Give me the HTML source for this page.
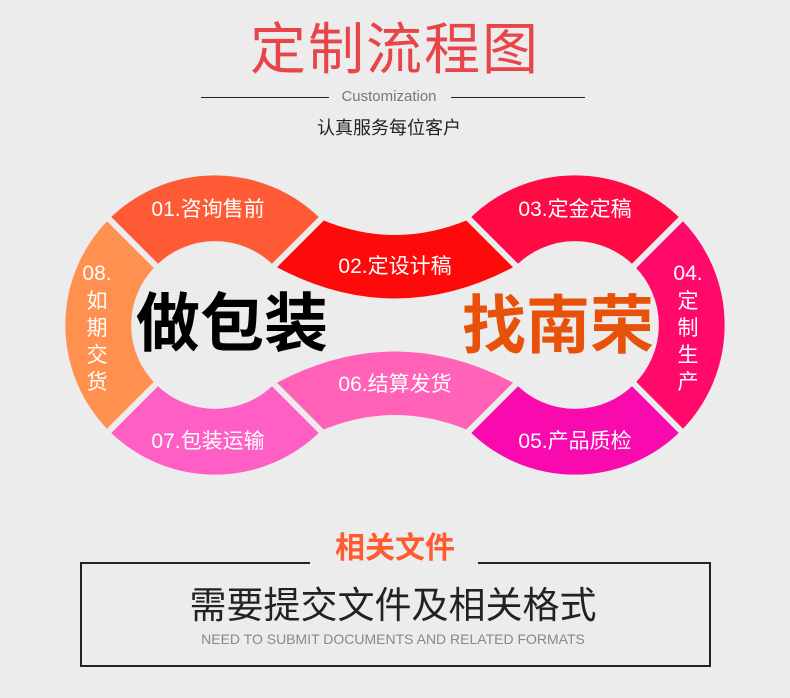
<!DOCTYPE html>
<html><head><meta charset="utf-8"><style>
html,body{margin:0;padding:0;background:#ececec;}
body{width:790px;height:698px;position:relative;overflow:hidden;font-family:"Liberation Sans","Noto Sans CJK SC",sans-serif;}
.a{position:absolute;white-space:nowrap;}
</style></head><body>
<div class="a" style="left:0;width:790px;top:18px;text-align:center;font-size:56px;line-height:64px;color:#e8454a;letter-spacing:2px;">定制流程图</div>
<div class="a" style="left:201px;top:97px;width:128px;height:1px;background:#222;"></div>
<div class="a" style="left:451px;top:97px;width:134px;height:1px;background:#222;"></div>
<div class="a" style="left:0;width:778px;top:88px;text-align:center;font-size:15px;line-height:18px;color:#777;">Customization</div>
<div class="a" style="left:0;width:778px;top:117px;text-align:center;font-size:18px;line-height:22px;color:#222;">认真服务每位客户</div>

<svg class="a" style="left:0;top:0" width="790" height="698" viewBox="0 0 790 698">
<g stroke="#ececec" stroke-width="6" stroke-linejoin="miter">
<path fill="#ff5a36" d="M107,217 A153,153 0 0 1 323,217 L272,268 A80,80 0 0 0 158,268 Z"/>
<path fill="#ff9050" d="M107,433 A153,153 0 0 1 107,217 L158,268 A80,80 0 0 0 158,382 Z"/>
<path fill="#ff5fc4" d="M323,433 A153,153 0 0 1 107,433 L158,382 A80,80 0 0 0 272,382 Z"/>
<path fill="#ff0a45" d="M467,217 A153,153 0 0 1 683,217 L632,268 A80,80 0 0 0 518,268 Z"/>
<path fill="#ff0a6a" d="M683,217 A153,153 0 0 1 683,433 L632,382 A80,80 0 0 0 632,268 Z"/>
<path fill="#f80aae" d="M683,433 A153,153 0 0 1 467,433 L518,382 A80,80 0 0 0 632,382 Z"/>
<path fill="#ff0a0a" d="M323,217 Q395,247 467,217 L518,268 Q395,335 272,268 Z"/>
<path fill="#ff62b6" d="M272,382 Q395,315 518,382 L467,433 Q395,403 323,433 Z"/>
</g>
<g fill="#fff" font-size="21" text-anchor="middle" font-family="Liberation Sans,Noto Sans CJK SC,sans-serif">
<text x="208" y="216">01.咨询售前</text>
<text x="395" y="273">02.定设计稿</text>
<text x="575" y="216">03.定金定稿</text>
<text x="575" y="448">05.产品质检</text>
<text x="395" y="391">06.结算发货</text>
<text x="208" y="448">07.包装运输</text>
<text x="97" y="280">08.</text>
<text x="97" y="308">如</text><text x="97" y="335">期</text><text x="97" y="362">交</text><text x="97" y="389">货</text>
<text x="688" y="280">04.</text>
<text x="688" y="308">定</text><text x="688" y="335">制</text><text x="688" y="362">生</text><text x="688" y="389">产</text>
</g>
<text x="232" y="346" text-anchor="middle" font-size="64" font-weight="bold" fill="#000" font-family="Noto Sans CJK SC,sans-serif">做包装</text>
<text x="558" y="348" text-anchor="middle" font-size="64" font-weight="bold" fill="#e8510a" font-family="Noto Sans CJK SC,sans-serif">找南荣</text>
</svg>

<div class="a" style="left:80px;top:562px;width:627px;height:101px;border:2px solid #222;"></div>
<div class="a" style="left:310px;top:528px;width:168px;height:40px;background:#ececec;"></div>
<div class="a" style="left:0;width:790px;top:530px;text-align:center;font-size:30px;line-height:38px;font-weight:bold;color:#ff5a30;">相关文件</div>
<div class="a" style="left:0;width:786px;top:584px;text-align:center;font-size:37px;line-height:44px;color:#222;">需要提交文件及相关格式</div>
<div class="a" style="left:0;width:786px;top:631px;text-align:center;font-size:14px;line-height:16px;color:#888;letter-spacing:0px;">NEED TO SUBMIT DOCUMENTS AND RELATED FORMATS</div>
</body></html>
